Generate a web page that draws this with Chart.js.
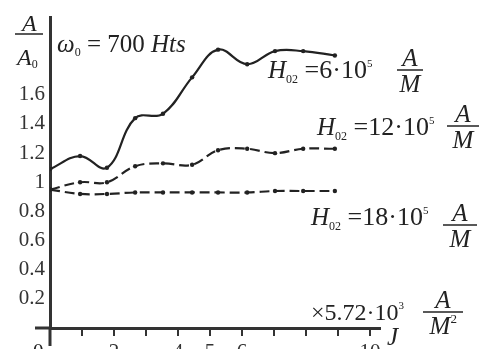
<!DOCTYPE html>
<html>
<head>
<meta charset="utf-8">
<script src="https://cdn.jsdelivr.net/npm/chart.js@4.4.1/dist/chart.umd.min.js"></script>
<style>
  body { margin: 0; background: #fff; }
  canvas { display: block; }
</style>
</head>
<body>
<canvas id="chart" width="488" height="349"></canvas>
<script>
// J values (x 5.72e3 A/M^2) where the points sit
const jValues = [0, 0.94, 1.78, 2.66, 3.53, 4.44, 5.25, 6.16, 7.03, 7.91, 8.9];
// A/A0 for each field strength H02
const h6Values = [1.09, 1.18, 1.10, 1.44, 1.47, 1.72, 1.91, 1.81, 1.90, 1.90, 1.87];
const h12Values = [0.95, 1.0, 1.0, 1.11, 1.13, 1.12, 1.22, 1.23, 1.20, 1.23, 1.23];
const h18Values = [0.95, 0.92, 0.92, 0.93, 0.93, 0.93, 0.93, 0.93, 0.94, 0.94, 0.94];

const yTicks = [0, 0.2, 0.4, 0.6, 0.8, 1, 1.2, 1.4, 1.6];
const yLabels = ['', '0.2', '0.4', '0.6', '0.8', '1', '1.2', '1.4', '1.6'];
const xTicks = [0, 1, 2, 3, 4, 5, 6, 7, 8, 9, 10];
const xLabels = ['', '', '2', '', '4', '5', '6', '', '', '', '10'];

const ink = '#222';
const serif = '"Liberation Serif", "DejaVu Serif", serif';

const toPoints = (vals) => vals.map((v, i) => ({ x: jValues[i], y: v }));

function rich(ctx, x, y, parts) {
  // parts: [text, size, italic, dy]
  parts.forEach(([t, size, it, dy]) => {
    ctx.font = (it ? 'italic ' : '') + size + 'px ' + serif;
    ctx.fillText(t, x, y + (dy || 0));
    x += ctx.measureText(t).width;
  });
  return x;
}

function frac(ctx, x1, x2, yLine, num, den) {
  ctx.beginPath();
  ctx.moveTo(x1, yLine);
  ctx.lineTo(x2, yLine);
  ctx.lineWidth = 1.5;
  ctx.strokeStyle = ink;
  ctx.stroke();
  const cx = (x1 + x2) / 2;
  ctx.font = 'italic 25px ' + serif;
  const wn = ctx.measureText(num[0]).width;
  rich(ctx, cx - wn / 2, yLine - 4, [[num[0], 25, true, 0]]);
  const wd = ctx.measureText(den[0]).width;
  rich(ctx, cx - wd / 2 - (den[1] ? 3 : 0), yLine + 22, [[den[0], 25, true, 0], [den[1] || '', 13, false, -11]]);
}

const notes = {
  id: 'notes',
  afterDraw(chart) {
    const ctx = chart.ctx;
    const x0 = chart.scales.x.getPixelForValue(0);
    const y0 = chart.scales.y.getPixelForValue(0);
    ctx.save();
    // axis stubs past the origin
    ctx.strokeStyle = '#333';
    ctx.lineWidth = 3;
    ctx.beginPath();
    ctx.moveTo(x0 - 15, y0);
    ctx.lineTo(x0, y0);
    ctx.moveTo(x0, y0);
    ctx.lineTo(x0, y0 + 18);
    ctx.stroke();

    ctx.fillStyle = ink;
    ctx.textBaseline = 'alphabetic';
    // origin label shared by both axes
    rich(ctx, x0 - 17, y0 + 30, [['0', 21, false, 0]]);

    // A / A0
    ctx.beginPath();
    ctx.moveTo(15, 34);
    ctx.lineTo(43, 34);
    ctx.lineWidth = 1.5;
    ctx.strokeStyle = ink;
    ctx.stroke();
    rich(ctx, 22, 31, [['A', 24, true, 0]]);
    rich(ctx, 17, 65, [['A', 24, true, 0], ['0', 12, false, 3]]);

    rich(ctx, 57, 52, [['ω', 25, true, 0], ['0', 12, false, 4], [' = 700 ', 25, false, 0], ['Hts', 25, true, 0]]);

    rich(ctx, 268, 78, [['H', 25, true, 0], ['02', 12, false, 5], [' =6·10', 26, false, 0], ['5', 11, false, -11]]);
    frac(ctx, 397, 423, 70, ['A'], ['M']);

    rich(ctx, 317, 135, [['H', 25, true, 0], ['02', 12, false, 5], [' =12·10', 26, false, 0], ['5', 11, false, -11]]);
    frac(ctx, 447, 479, 126, ['A'], ['M']);

    rich(ctx, 311, 225, [['H', 25, true, 0], ['02', 12, false, 5], [' =18·10', 26, false, 0], ['5', 11, false, -11]]);
    frac(ctx, 443, 477, 225, ['A'], ['M']);

    rich(ctx, 311, 320, [['×5.72·10', 24, false, 0], ['3', 11, false, -11]]);
    frac(ctx, 423, 463, 312, ['A'], ['M', '2']);
    rich(ctx, 387, 345, [['J', 25, true, 0]]);
    ctx.restore();
  }
};

const lineStyle = {
  borderColor: ink,
  backgroundColor: ink,
  borderWidth: 2.2,
  pointRadius: 2.2,
  pointBorderWidth: 0,
  tension: 0.4,
  fill: false
};

new Chart(document.getElementById('chart'), {
  type: 'line',
  data: {
    datasets: [
      { ...lineStyle, label: 'H02 = 6·10^5 A/M', data: toPoints(h6Values) },
      { ...lineStyle, label: 'H02 = 12·10^5 A/M', data: toPoints(h12Values), borderDash: [10, 5] },
      { ...lineStyle, label: 'H02 = 18·10^5 A/M', data: toPoints(h18Values), borderDash: [10, 5] }
    ]
  },
  options: {
    responsive: false,
    animation: false,
    layout: { padding: { top: 15, right: 108, left: 0, bottom: 0 } },
    plugins: { legend: { display: false }, tooltip: { enabled: false } },
    scales: {
      x: {
        type: 'linear',
        min: 0,
        max: 10.31,
        afterBuildTicks: (s) => { s.ticks = xTicks.map(v => ({ value: v })); },
        afterFit: (s) => { s.height = 21; },
        grid: { drawOnChartArea: false, drawTicks: true, tickLength: 8, color: '#333', lineWidth: 2 },
        border: { display: true, color: '#333', width: 3 },
        ticks: {
          color: '#333',
          font: { family: serif, size: 21 },
          padding: 4,
          maxRotation: 0,
          autoSkip: false,
          callback: (v, i) => xLabels[i]
        }
      },
      y: {
        min: 0,
        max: 2.13,
        afterBuildTicks: (s) => { s.ticks = yTicks.map(v => ({ value: v })); },
        afterFit: (s) => { s.width = 50; },
        grid: { drawOnChartArea: false, drawTicks: false },
        border: { display: true, color: '#333', width: 3 },
        ticks: {
          color: '#333',
          font: { family: serif, size: 21 },
          padding: 5,
          callback: (v, i) => yLabels[i]
        }
      }
    }
  },
  plugins: [notes]
});
</script>
</body>
</html>
